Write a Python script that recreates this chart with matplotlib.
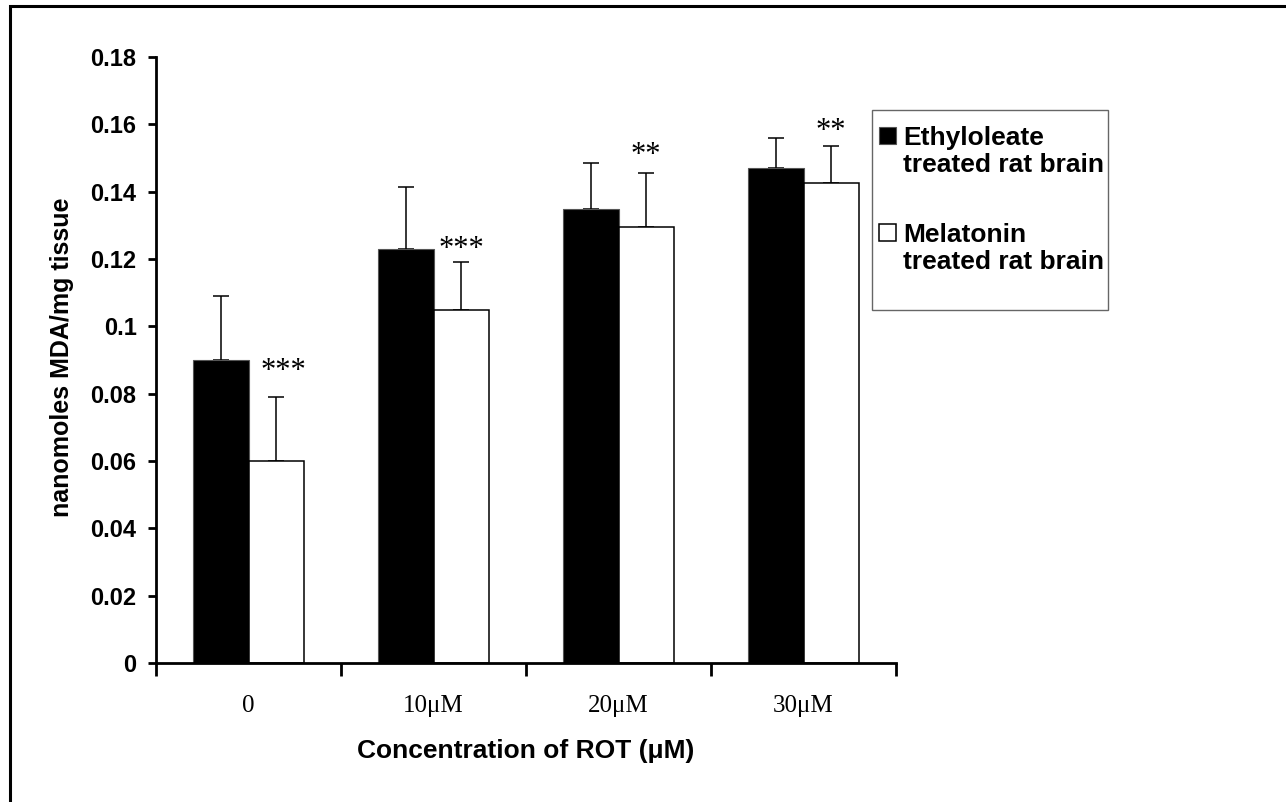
import numpy as np
import matplotlib
matplotlib.use("Agg")
import matplotlib.pyplot as plt
from matplotlib.patches import Rectangle
from matplotlib.legend_handler import HandlerPatch
from matplotlib.container import BarContainer

# ===================
# Datos
# ===================
categories = ["0", "10\u03bcM", "20\u03bcM", "30\u03bcM"]
ethyl_vals = [0.090, 0.123, 0.135, 0.147]
ethyl_err = [0.019, 0.0185, 0.0135, 0.009]
melat_vals = [0.060, 0.105, 0.1295, 0.1425]
melat_err = [0.019, 0.014, 0.016, 0.011]
sig_labels = ["***", "***", "**", "**"]
sig_y = [0.0845, 0.1205, 0.1485, 0.1555]

yticks = [0, 0.02, 0.04, 0.06, 0.08, 0.1, 0.12, 0.14, 0.16, 0.18]
ytick_labels = ["0", "0.02", "0.04", "0.06", "0.08", "0.1", "0.12", "0.14", "0.16", "0.18"]

SANS = ["Liberation Sans", "DejaVu Sans"]
SERIF = ["Liberation Serif", "DejaVu Serif"]

# ===================
# Figura
# ===================
fig = plt.figure(figsize=(12.86, 8.02), dpi=100)
ax = fig.add_axes([156 / 1286, 1 - 663 / 802, 740 / 1286, 606 / 802])

x = np.arange(len(categories))
w = 0.3

ax.bar(x - w / 2, ethyl_vals, w, color="black", edgecolor="#555555", linewidth=0.8,
       label="Ethyloleate\ntreated rat brain", zorder=2)
ax.bar(x + w / 2, melat_vals, w, color="white", edgecolor="black", linewidth=1.1,
       label="Melatonin\ntreated rat brain", zorder=2)

zeros = np.zeros(len(categories))
ax.errorbar(x - w / 2, ethyl_vals, yerr=[zeros, ethyl_err], fmt="none", ecolor="black",
            elinewidth=1.1, capsize=5.5, capthick=1.1, zorder=1)
ax.errorbar(x + w / 2, melat_vals, yerr=[zeros, melat_err], fmt="none", ecolor="black",
            elinewidth=1.1, capsize=5.5, capthick=1.1, zorder=1)

# asteriscos de significancia (el primero va un poco a la derecha)
for i, (lab, yy) in enumerate(zip(sig_labels, sig_y)):
    dx = 0.04 if i == 0 else 0.0
    ax.text(x[i] + w / 2 + dx, yy, lab, ha="center", va="baseline", fontsize=22, family=SERIF)

# Ejes
ax.set_xlim(-0.5, len(categories) - 0.5)
ax.set_ylim(0, 0.18)
for s in ["top", "right"]:
    ax.spines[s].set_visible(False)
ax.spines["left"].set_linewidth(2)
ax.spines["bottom"].set_linewidth(2)

ax.set_yticks(yticks)
ax.set_yticklabels(ytick_labels, fontsize=17, fontweight="bold", family=SANS)
ax.tick_params(axis="y", direction="out", length=6, width=2, pad=8)

ax.set_xticks(np.arange(len(categories) + 1) - 0.5)
ax.set_xticklabels([])
ax.tick_params(axis="x", which="major", direction="out", length=9, width=2)
ax.set_xticks(x, minor=True)
ax.set_xticklabels(categories, minor=True, fontsize=18, family=SERIF)
ax.tick_params(axis="x", which="minor", length=0, pad=23)

ax.set_ylabel("nanomoles MDA/mg tissue", fontsize=18, fontweight="bold", family=SANS)
ax.yaxis.set_label_coords(-0.111, 0.505)
ax.set_xlabel("Concentration of ROT (\u03bcM)", fontsize=19, fontweight="bold", family=SANS)
ax.xaxis.set_label_coords(0.5, -0.125)


# Leyenda (cuadro fijo + entradas)
def first_child(tgt, src):
    child = next(iter(src.get_children()), None)
    if child is not None:
        tgt.update_from(child)


def square_handle(legend, orig_handle, xdescent, ydescent, width, height, fontsize):
    return Rectangle((-xdescent, -ydescent + 0.62 * fontsize), width, height)


leg = fig.legend(loc="upper left", bbox_to_anchor=(874 / 1286, 1 - 121 / 802),
                 frameon=False, prop={"family": SANS, "weight": "bold", "size": 19},
                 handlelength=0.65, handleheight=0.65, handletextpad=0.25,
                 labelspacing=1.75, borderpad=0.2, borderaxespad=0,
                 handler_map={BarContainer: HandlerPatch(patch_func=square_handle,
                                                         update_func=first_child)})
for t in leg.get_texts():
    t.set_linespacing(1.15)

fig.patches.append(Rectangle((872 / 1286, 1 - 310 / 802), 236 / 1286, 200 / 802,
                             transform=fig.transFigure, fill=False, edgecolor="#666666",
                             linewidth=1.0))

# Marco exterior
fig.patches.append(Rectangle((10 / 1286, -0.05), 1.2, 1.05 - 6 / 802,
                             transform=fig.transFigure, fill=False, edgecolor="black",
                             linewidth=2.2))

fig.savefig("out.png", dpi=100)
